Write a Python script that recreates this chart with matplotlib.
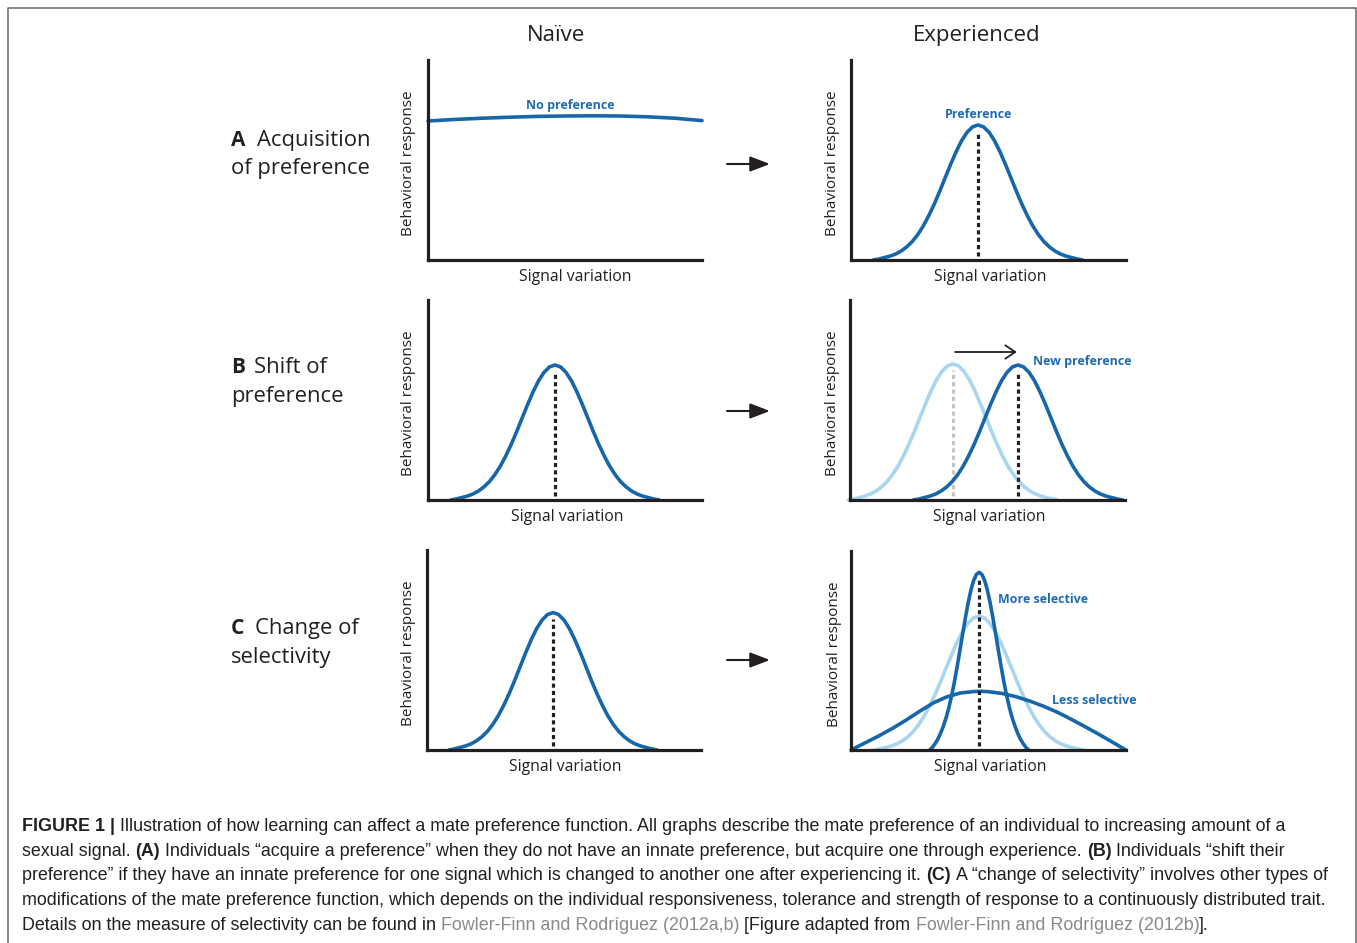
import matplotlib
matplotlib.use("Agg")
import matplotlib.pyplot as plt
from matplotlib.patches import FancyArrowPatch
from matplotlib.lines import Line2D

W, H, DPI = 1357, 943, 100

# ------------------------------------------------------------------ data
column_titles = ["Naïve", "Experienced"]
row_letters = ["A", "B", "C"]
row_titles = [["Acquisition", "of preference"],
              ["Shift of", "preference"],
              ["Change of", "selectivity"]]
x_label = "Signal variation"
y_label = "Behavioral response"

# Row A, naive: nearly flat response ("No preference")
flat_x = [0.0, 0.1, 0.2, 0.3, 0.4, 0.5, 0.6, 0.7, 0.8, 0.9, 1.0]
flat_y = [0.695, 0.703, 0.709, 0.714, 0.718, 0.720, 0.721, 0.720, 0.716, 0.709, 0.697]

# Bell-shaped preference function, half profile:
# offset from the peak (signal units) and height relative to the peak
bell_dx = [0.00, 0.02, 0.04, 0.06, 0.08, 0.10, 0.12, 0.14, 0.16, 0.18,
           0.20, 0.22, 0.24, 0.26, 0.28, 0.30, 0.32, 0.34, 0.36, 0.38]
bell_rel = [1.000, 0.986, 0.946, 0.883, 0.801, 0.707, 0.607, 0.506, 0.411, 0.325,
            0.249, 0.186, 0.135, 0.096, 0.066, 0.044, 0.029, 0.018, 0.008, 0.000]

# Narrow bell ("More selective"), half profile
narrow_dx = [0.00, 0.01, 0.02, 0.03, 0.04, 0.05, 0.06, 0.07, 0.08, 0.09, 0.10,
             0.11, 0.12, 0.13, 0.14, 0.15, 0.16, 0.17, 0.18]
narrow_rel = [1.000, 0.988, 0.954, 0.899, 0.828, 0.744, 0.653, 0.560, 0.469, 0.383, 0.306,
              0.239, 0.182, 0.135, 0.095, 0.062, 0.036, 0.015, 0.000]

# Broad curve ("Less selective")
wide_x = [0.00, 0.05, 0.10, 0.15, 0.20, 0.25, 0.30, 0.35, 0.40, 0.45, 0.47,
          0.50, 0.55, 0.60, 0.65, 0.70, 0.75, 0.80, 0.85, 0.90, 0.95, 1.00]
wide_y = [0.000, 0.035, 0.070, 0.108, 0.150, 0.195, 0.237, 0.268, 0.287, 0.294, 0.295,
          0.293, 0.284, 0.268, 0.246, 0.220, 0.190, 0.155, 0.118, 0.080, 0.040, 0.000]

# peak (signal position, response height) of each bell curve
peak_A_exp = (0.462, 0.675)
peak_B_naive = (0.4635, 0.675)
peak_B_old = (0.3745, 0.680)
peak_B_new = (0.611, 0.675)
peak_C_naive = (0.460, 0.687)
peak_C_old = (0.465, 0.673)
peak_C_narrow = (0.466, 0.893)

caption_lines = [
    [("FIGURE 1 | ", "b"),
     ("Illustration of how learning can affect a mate preference function. All graphs describe the mate preference of an individual to increasing amount of a", "n")],
    [("sexual signal. ", "n"), ("(A)", "b"),
     (" Individuals \u201cacquire a preference\u201d when they do not have an innate preference, but acquire one through experience. ", "n"),
     ("(B)", "b"), (" Individuals \u201cshift their", "n")],
    [("preference\u201d if they have an innate preference for one signal which is changed to another one after experiencing it. ", "n"),
     ("(C)", "b"), (" A \u201cchange of selectivity\u201d involves other types of", "n")],
    [("modifications of the mate preference function, which depends on the individual responsiveness, tolerance and strength of response to a continuously distributed trait.", "n")],
    [("Details on the measure of selectivity can be found in ", "n"),
     ("Fowler-Finn and Rodr\u00edguez (2012a,b)", "g"),
     (" [Figure adapted from ", "n"),
     ("Fowler-Finn and Rodr\u00edguez (2012b)", "g"),
     ("].", "n")],
]

# ------------------------------------------------------------------ style
DARK = "#1866aa"
LIGHT = "#a9d5ee"
LABEL_BLUE = "#1f6cb4"
INK = "#231f20"
GRAYDASH = "#c4c4c4"
SANS = "Open Sans"
CAP = "Liberation Sans"

fig = plt.figure(figsize=(W / DPI, H / DPI), dpi=DPI)
fig.patch.set_facecolor("white")
renderer = fig.canvas.get_renderer()


def fx(x):
    return x / W


def fy(y):
    return 1 - y / H


def bell(dx, rel, peak):
    c, h = peak
    xs = [c - d for d in reversed(dx[1:])] + [c + d for d in dx]
    ys = [h * r for r in reversed(rel[1:])] + [h * r for r in rel]
    return xs, ys


def panel(x0, x1, yt, yb, ylab_x, ylab_y, xlab_x):
    ax = fig.add_axes([fx(x0), fy(yb), (x1 - x0) / W, (yb - yt) / H])
    ax.set_xlim(0, 1)
    ax.set_ylim(0, 1)
    ax.patch.set_alpha(0)
    for s in ("top", "right"):
        ax.spines[s].set_visible(False)
    for s in ("left", "bottom"):
        ax.spines[s].set_linewidth(2.3)
        ax.spines[s].set_color(INK)
        ax.spines[s].set_capstyle("projecting")
    ax.set_xticks([])
    ax.set_yticks([])
    fig.text(fx(xlab_x), fy(yb + 21), x_label, ha="center", va="baseline",
             fontsize=11.3, family=SANS, color=INK)
    fig.text(fx(ylab_x), fy(ylab_y), y_label, ha="center", va="center",
             rotation=90, fontsize=11.0, family=SANS, color=INK)
    return ax


def curve(ax, xs, ys, color=DARK):
    ax.plot(xs, ys, color=color, lw=2.6, solid_capstyle="round",
            solid_joinstyle="round", clip_on=False)


def dashed(ax, x, top, color=INK):
    ax.plot([x, x], [0.02, top], color=color, lw=2.3,
            linestyle=(0, (1.3, 1.0)), dash_capstyle="butt")


def blue_label(ax, x, y, s, ha="center"):
    ax.text(x, y, s, ha=ha, va="center", fontsize=9.0, fontweight="bold",
            family=SANS, color=LABEL_BLUE)


# ---- frame
fig.add_artist(Line2D([fx(8), fx(8), fx(1356), fx(1356)],
                      [0, fy(8), fy(8), 0], transform=fig.transFigure,
                      color="#666666", lw=1.1))

# ---- column titles
fig.text(fx(556), fy(41), column_titles[0], ha="center", va="baseline",
         fontsize=16, family=SANS, color=INK)
fig.text(fx(977), fy(41), column_titles[1], ha="center", va="baseline",
         fontsize=16, family=SANS, color=INK)

# ---- row titles
row_base = [(146, 174), (373, 402), (634, 663)]
row_word_x = [257, 254, 255]
for i in range(3):
    b1, b2 = row_base[i]
    fig.text(fx(231), fy(b1), row_letters[i], ha="left", va="baseline",
             fontsize=15, fontweight="bold", family=SANS, color=INK)
    fig.text(fx(row_word_x[i]), fy(b1), row_titles[i][0], ha="left",
             va="baseline", fontsize=15.8, family=SANS, color=INK)
    fig.text(fx(231), fy(b2), row_titles[i][1], ha="left", va="baseline",
             fontsize=15.8, family=SANS, color=INK)

# ---- transition arrows
for y in (164, 411, 660):
    fig.add_artist(FancyArrowPatch((fx(727), fy(y)), (fx(770), fy(y)),
                                   transform=fig.transFigure,
                                   arrowstyle="-|>,head_length=0.55,head_width=0.21",
                                   mutation_scale=22, lw=1.5, color=INK,
                                   shrinkA=0, shrinkB=0))

# ---- Row A
axA1 = panel(428, 702, 60, 260, 408, 163, 575)
curve(axA1, flat_x, flat_y)
blue_label(axA1, 0.518, 0.775, "No preference")

axA2 = panel(851, 1126, 60, 260, 833, 163, 990)
xs, ys = bell(bell_dx, bell_rel, peak_A_exp)
curve(axA2, xs, ys)
dashed(axA2, peak_A_exp[0], peak_A_exp[1] - 0.03)
blue_label(axA2, 0.465, 0.725, "Preference")

# ---- Row B
axB1 = panel(428, 702, 300, 500, 409, 403, 567)
xs, ys = bell(bell_dx, bell_rel, peak_B_naive)
curve(axB1, xs, ys)
dashed(axB1, peak_B_naive[0], peak_B_naive[1] - 0.03)

axB2 = panel(850, 1125, 300, 500, 832, 403, 989)
xs, ys = bell(bell_dx, bell_rel, peak_B_old)
curve(axB2, xs, ys, LIGHT)
dashed(axB2, peak_B_old[0], peak_B_old[1] - 0.03, GRAYDASH)
xs, ys = bell(bell_dx, bell_rel, peak_B_new)
curve(axB2, xs, ys)
dashed(axB2, peak_B_new[0], peak_B_new[1] - 0.03)
axB2.annotate("", xy=(0.607, 0.74), xytext=(0.382, 0.74),
              arrowprops=dict(arrowstyle="->,head_length=0.45,head_width=0.3",
                              lw=1.3, color=INK, shrinkA=0, shrinkB=0,
                              mutation_scale=16))
blue_label(axB2, 0.665, 0.69, "New preference", ha="left")

# ---- Row C
axC1 = panel(427, 701, 550, 750, 408, 653, 565)
xs, ys = bell(bell_dx, bell_rel, peak_C_naive)
curve(axC1, xs, ys)
dashed(axC1, peak_C_naive[0], peak_C_naive[1] - 0.03)

axC2 = panel(851, 1126, 551, 750, 834, 654, 990)
xs, ys = bell(bell_dx, bell_rel, peak_C_old)
curve(axC2, xs, ys, LIGHT)
curve(axC2, wide_x, wide_y)
xs, ys = bell(narrow_dx, narrow_rel, peak_C_narrow)
curve(axC2, xs, ys)
dashed(axC2, peak_C_narrow[0], peak_C_narrow[1] - 0.03)
blue_label(axC2, 0.535, 0.754, "More selective", ha="left")
blue_label(axC2, 0.731, 0.251, "Less selective", ha="left")

# ---- caption (mixed styles placed run by run)
CAP_SIZE = 12.9
styles = {
    "n": dict(fontweight="normal", color=INK),
    "b": dict(fontweight="bold", color=INK),
    "g": dict(fontweight="normal", color="#8a8a8a"),
}


def space_width(weight):
    a = fig.text(0, 0, "x x", fontsize=CAP_SIZE, family=CAP, fontweight=weight)
    b = fig.text(0, 0, "xx", fontsize=CAP_SIZE, family=CAP, fontweight=weight)
    w = a.get_window_extent(renderer).width - b.get_window_extent(renderer).width
    a.remove()
    b.remove()
    return w


sp = {"normal": space_width("normal"), "bold": space_width("bold")}

for i, runs in enumerate(caption_lines):
    x = 22.0
    ybase = 831 + 24.7 * i
    for txt, st in runs:
        kw = styles[st]
        lead = len(txt) - len(txt.lstrip(" "))
        trail = len(txt) - len(txt.rstrip(" "))
        core = txt.strip(" ")
        x += lead * sp[kw["fontweight"]]
        t = fig.text(fx(x), fy(ybase), core, ha="left", va="baseline",
                     fontsize=CAP_SIZE, family=CAP, **kw)
        x += t.get_window_extent(renderer).width
        x += trail * sp[kw["fontweight"]]

fig.savefig("out.png", dpi=DPI, facecolor="white")
